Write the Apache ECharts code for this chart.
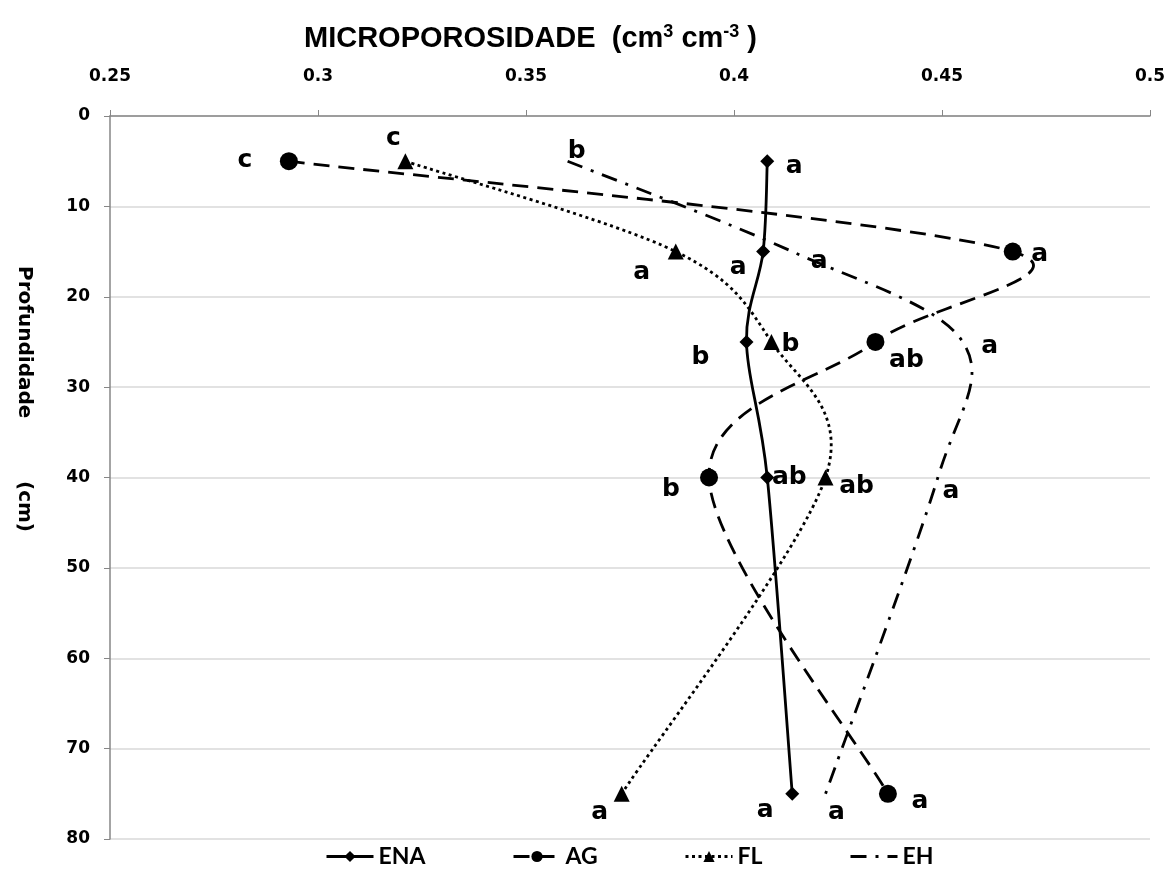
<!DOCTYPE html>
<html><head><meta charset="utf-8">
<script src="https://cdn.jsdelivr.net/npm/echarts@6/dist/echarts.min.js"></script>
<style>html,body{margin:0;padding:0;background:#fff}#c{width:1173px;height:873px}</style>
</head><body><div id="c"></div>
<script>
const depths = [5, 15, 25, 40, 75];
const xTicks = [0.25, 0.3, 0.35, 0.4, 0.45, 0.5];
const ENA = [0.408, 0.407, 0.403, 0.408, 0.414];
const AG  = [0.293, 0.467, 0.434, 0.394, 0.437];
const FL  = [0.321, 0.386, 0.409, 0.422, 0.373];
const EH  = [0.360, 0.414, 0.455, 0.449, 0.422];
const lettersENA = ['a', 'a', 'b', 'ab', 'a'];
const lettersAG  = ['c', 'a', 'ab', 'b', 'a'];
const lettersFL  = ['c', 'a', 'b', 'ab', 'a'];
const lettersEH  = ['b', 'a', 'a', 'a', 'a'];
const seriesNames = ['ENA', 'AG', 'FL', 'EH'];

// label offsets (layout only)
const offENA = [[27,5],[-25,16],[-46,16],[22,0],[-27,17]];
const offAG  = [[-44,-1],[27,3],[31,19],[-38,12],[32,8]];
const offFL  = [[-12,-23],[-34,21],[19,3],[31,9],[-22,19]];
const offEH  = [[9,-10],[27,10],[27,5],[13,14],[11,19]];
const legendLeft = [325, 512, 684, 849];

const styles = {
  ENA: {symbol: 'diamond', size: 14, dash: 'solid'},
  AG:  {symbol: 'circle', size: 18, dash: [16, 9]},
  FL:  {symbol: 'triangle', size: 16, dash: [3, 3.5]},
  EH:  {symbol: 'none', size: 0, dash: [16, 9, 3, 9]}
};
const LW = 2.8;
const labelFont = {fontFamily: 'DejaVu Sans', fontWeight: 'bold', fontSize: 25, color: '#000'};

function build(vals, letters, offs) {
  return vals.map((v, i) => ({
    value: [v, depths[i]],
    label: Object.assign({show: true, position: 'inside', offset: offs[i], formatter: letters[i]}, labelFont)
  }));
}

// Excel-style smoothed path through the pixel positions given by the axes
function smoothPath(pts) {
  const n = pts.length;
  const tan = i => {
    const p = pts[Math.max(i - 1, 0)], q = pts[Math.min(i + 1, n - 1)];
    return [q[0] - p[0], q[1] - p[1]];
  };
  let d = 'M' + pts[0][0] + ' ' + pts[0][1];
  for (let i = 0; i < n - 1; i++) {
    const p0 = pts[i], p1 = pts[i + 1];
    const seg = Math.hypot(p1[0] - p0[0], p1[1] - p0[1]);
    const t0 = tan(i), t1 = tan(i + 1);
    const l0 = Math.hypot(t0[0], t0[1]) || 1, l1 = Math.hypot(t1[0], t1[1]) || 1;
    const a0 = Math.min(l0 / 6, seg / 2), a1 = Math.min(l1 / 6, seg / 2);
    const c1 = [p0[0] + t0[0] / l0 * a0, p0[1] + t0[1] / l0 * a0];
    const c2 = [p1[0] - t1[0] / l1 * a1, p1[1] - t1[1] / l1 * a1];
    d += ' C' + c1[0] + ' ' + c1[1] + ' ' + c2[0] + ' ' + c2[1] + ' ' + p1[0] + ' ' + p1[1];
  }
  return d;
}

function curveSeries(vals, dash, z) {
  return {
    type: 'custom', coordinateSystem: 'cartesian2d', z: z, silent: true,
    data: vals.map((v, i) => [v, depths[i]]),
    renderItem: function (params, api) {
      if (params.dataIndex !== 0) return null;
      const pts = vals.map((v, i) => api.coord([v, depths[i]]));
      return {
        type: 'path',
        shape: {pathData: smoothPath(pts)},
        style: {fill: 'none', stroke: '#000', lineWidth: LW, lineDash: dash === 'solid' ? null : dash, lineCap: 'butt'}
      };
    }
  };
}

function markerSeries(name, vals, letters, offs, z) {
  const s = styles[name];
  return {
    name: name, type: 'line', symbol: s.symbol === 'none' ? 'circle' : s.symbol, symbolSize: s.symbol === 'none' ? 1 : s.size,
    itemStyle: {color: s.symbol === 'none' ? 'rgba(0,0,0,0)' : '#000'},
    lineStyle: {width: 0, opacity: 0},
    data: build(vals, letters, offs), z: z
  };
}

const chart = echarts.init(document.getElementById('c'), null, {renderer: 'canvas'});
chart.setOption({
  animation: false,
  backgroundColor: '#fff',
  title: {
    text: 'MICROPOROSIDADE  (cm{s|3} cm{s|-3} )',
    left: 299, top: 18,
    textStyle: {
      fontFamily: 'Liberation Sans', fontWeight: 'bold', fontSize: 29, color: '#000',
      rich: {s: {fontFamily: 'Liberation Sans', fontWeight: 'bold', fontSize: 18, verticalAlign: 'top', padding: [0,0,14,0], color: '#000'}}
    }
  },
  graphic: [{
    type: 'text', x: 24, y: 399, rotation: -Math.PI / 2,
    style: {text: 'Profundidade         (cm)', fontFamily: 'DejaVu Sans', fontWeight: 'bold', fontSize: 20, fill: '#000', align: 'center', verticalAlign: 'middle'}
  }],
  legend: seriesNames.map((n, i) => ({
    top: 845, left: legendLeft[i], padding: 0, itemWidth: 47, itemHeight: 14,
    textStyle: {fontFamily: 'Lato', fontWeight: 'bold', fontSize: 23, color: '#000'},
    data: [{name: n, lineStyle: {color: '#000', width: 3, opacity: 1, type: styles[n].dash}}]
  })),
  grid: {left: 110, right: 23, top: 116, bottom: 34},
  xAxis: {
    type: 'value', position: 'top', min: xTicks[0], max: xTicks[xTicks.length - 1], interval: 0.05,
    axisLine: {show: true, lineStyle: {color: '#868686', width: 1.5}},
    axisTick: {show: true, length: 6, lineStyle: {color: '#868686'}},
    axisLabel: {fontFamily: 'DejaVu Sans', fontWeight: 'bold', fontSize: 17, color: '#000', margin: 31},
    splitLine: {show: false}
  },
  yAxis: {
    type: 'value', inverse: true, min: 0, max: 80, interval: 10,
    axisLine: {show: true, lineStyle: {color: '#868686', width: 1.5}},
    axisTick: {show: true, length: 6, lineStyle: {color: '#868686'}},
    axisLabel: {fontFamily: 'DejaVu Sans', fontWeight: 'bold', fontSize: 17, color: '#000', margin: 20},
    splitLine: {show: true, lineStyle: {color: '#d9d9d9', width: 1.5}}
  },
  series: [
    markerSeries('ENA', ENA, lettersENA, offENA, 10),
    markerSeries('AG', AG, lettersAG, offAG, 9),
    markerSeries('FL', FL, lettersFL, offFL, 8),
    markerSeries('EH', EH, lettersEH, offEH, 7),
    curveSeries(ENA, styles.ENA.dash, 5),
    curveSeries(AG, styles.AG.dash, 4),
    curveSeries(FL, styles.FL.dash, 3),
    curveSeries(EH, styles.EH.dash, 2)
  ]
});
</script></body></html>
